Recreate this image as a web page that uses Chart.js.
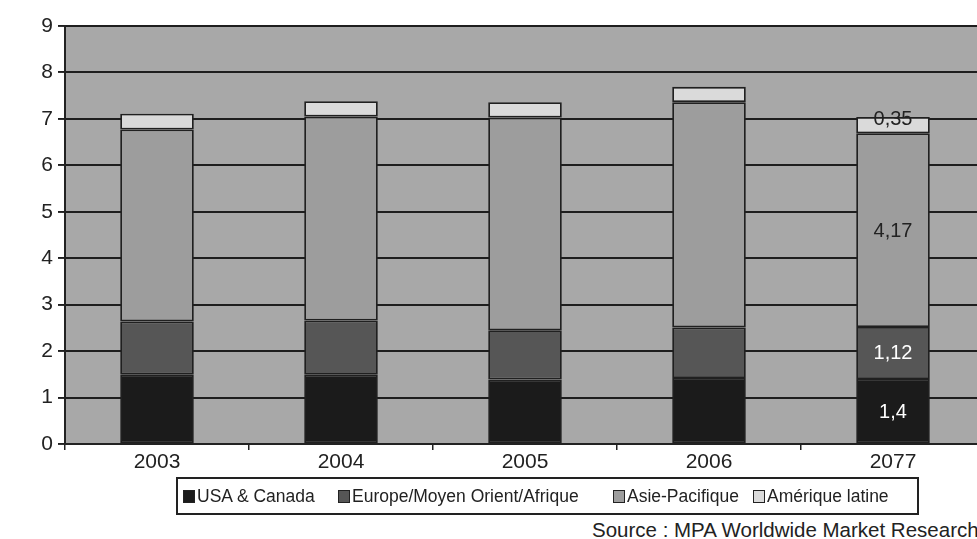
<!DOCTYPE html>
<html>
<head>
<meta charset="utf-8">
<script src="https://cdn.jsdelivr.net/npm/chart.js@4"></script>
<style>
  html, body { margin:0; padding:0; background:#fff; overflow:hidden; width:977px; height:539px; }
  #wrap { position:absolute; left:0; top:0; width:985px; height:480px; }
  #legend { position:absolute; left:176px; top:477px; width:739px; height:34px; border:2px solid #222; box-sizing:content-box; font-family:"Liberation Sans", Arial, sans-serif; font-size:17.5px; color:#222; }
  .item { position:absolute; top:7px; white-space:nowrap; line-height:20px; }
  .sw { display:inline-block; width:10px; height:11px; border:1.5px solid #222; vertical-align:-1px; margin-right:2px; }
  #source { position:absolute; left:592px; top:518px; font-family:"Liberation Sans", Arial, sans-serif; font-size:20.5px; color:#222; white-space:nowrap; }
</style>
</head>
<body>
<div id="wrap"><canvas id="c"></canvas></div>
<div id="legend"></div>
<div id="source">Source : MPA Worldwide Market Research</div>
<script>
const categories = ["2003", "2004", "2005", "2006", "2077"];
const seriesNames = ["USA & Canada", "Europe/Moyen Orient/Afrique", "Asie-Pacifique", "Amérique latine"];
const usaCanada = [1.5, 1.49, 1.39, 1.42, 1.4];
const europeMOA = [1.14, 1.17, 1.06, 1.09, 1.12];
const asiePacifique = [4.13, 4.39, 4.58, 4.85, 4.17];
const ameriqueLatine = [0.34, 0.33, 0.33, 0.33, 0.35];
const yTicks = [0, 1, 2, 3, 4, 5, 6, 7, 8, 9];
const colors = ["#1b1b1b", "#565656", "#9d9d9d", "#dadada"];
const labelColors = ["#ffffff", "#ffffff", "#222222", "#222222"];
const legendX = [183, 338, 613, 753];

const seriesData = [usaCanada, europeMOA, asiePacifique, ameriqueLatine];

// HTML legend
const leg = document.getElementById('legend');
seriesNames.forEach((n, i) => {
  const d = document.createElement('div');
  d.className = 'item';
  d.style.left = (legendX[i] - 178) + 'px';
  const s = document.createElement('span');
  s.className = 'sw';
  s.style.background = colors[i];
  d.appendChild(s);
  d.appendChild(document.createTextNode(n));
  leg.appendChild(d);
});

const bgPlugin = {
  id: 'bg',
  beforeDraw(chart) {
    const {ctx, chartArea: a} = chart;
    ctx.save();
    ctx.fillStyle = '#a8a8a8';
    ctx.fillRect(a.left, a.top, a.right - a.left, a.bottom - a.top);
    ctx.restore();
  }
};

const labelPlugin = {
  id: 'lastLabels',
  afterDatasetsDraw(chart) {
    const ctx = chart.ctx;
    ctx.save();
    ctx.font = '20px "Liberation Sans", Arial, sans-serif';
    ctx.textAlign = 'center';
    ctx.textBaseline = 'middle';
    chart.data.datasets.forEach((ds, di) => {
      const meta = chart.getDatasetMeta(di);
      const idx = ds.data.length - 1;
      const el = meta.data[idx];
      const v = ds.data[idx];
      const yc = (el.y + el.base) / 2 + (di === 3 ? -7 : 0);
      ctx.fillStyle = labelColors[di];
      ctx.fillText(String(v).replace('.', ','), el.x, yc + 1);
    });
    ctx.restore();
  }
};

new Chart(document.getElementById('c'), {
  type: 'bar',
  data: {
    labels: categories,
    datasets: seriesNames.map((n, i) => ({
      label: n,
      data: seriesData[i],
      backgroundColor: colors[i],
      borderColor: '#202020',
      borderWidth: 1.8,
      borderSkipped: false,
      barPercentage: 0.4,
      categoryPercentage: 1.0
    }))
  },
  options: {
    responsive: true,
    maintainAspectRatio: false,
    animation: false,
    layout: { padding: { top: 26, right: 0, left: 0, bottom: 0 } },
    plugins: { legend: { display: false }, tooltip: { enabled: false } },
    scales: {
      x: {
        stacked: true,
        afterFit(s) { s.height = 36; },
        grid: { display: true, drawOnChartArea: false, drawTicks: true, tickLength: 6, color: '#222', lineWidth: 1.5, offset: true },
        border: { display: true, color: '#222', width: 2 },
        ticks: { color: '#222', font: { family: '"Liberation Sans", Arial, sans-serif', size: 21 }, padding: 0 }
      },
      y: {
        stacked: true,
        min: 0, max: 9,
        afterBuildTicks(s) { s.ticks = yTicks.map(v => ({ value: v })); },
        afterFit(s) { s.width = 65; },
        grid: { color: '#1e1e1e', lineWidth: 1.9, tickLength: 7, drawTicks: true },
        border: { display: true, color: '#222', width: 2 },
        ticks: { color: '#222', font: { family: '"Liberation Sans", Arial, sans-serif', size: 21 }, padding: 5 }
      }
    }
  },
  plugins: [bgPlugin, labelPlugin]
});
</script>
</body>
</html>
